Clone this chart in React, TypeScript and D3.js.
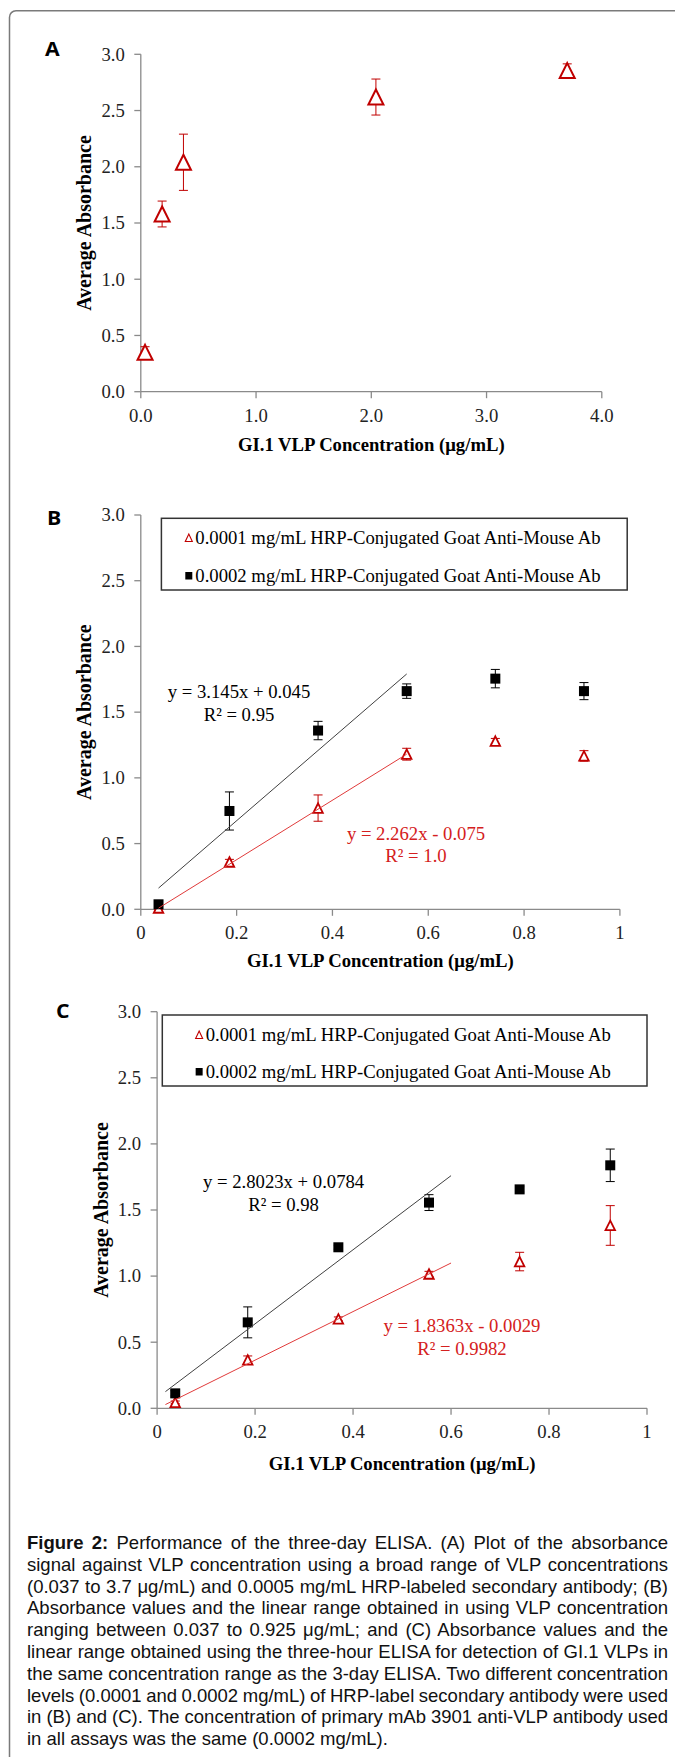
import React, { useEffect, useRef } from 'react';
import * as d3 from 'd3';

const W = 675;
const H = 1757;

// ---- data ----
const concA = [0.037, 0.185, 0.37, 2.04, 3.7];
const absA = [0.35, 1.58, 2.04, 2.62, 2.855];
const errA = [0.05, 0.115, 0.25, 0.16, 0.06];

const concBC = [0.037, 0.185, 0.37, 0.555, 0.74, 0.925];
const absB1 = [0.01, 0.36, 0.77, 1.18, 1.28, 1.167];
const errB1 = [0.01, 0.02, 0.1, 0.045, 0.02, 0.04];
const absB2 = [0.038, 0.748, 1.36, 1.66, 1.755, 1.66];
const errB2 = [0.02, 0.145, 0.07, 0.055, 0.07, 0.065];
const absC1 = [0.045, 0.366, 0.676, 1.016, 1.11, 1.383];
const errC1 = [0.01, 0.03, 0.015, 0.02, 0.07, 0.15];
const absC2 = [0.113, 0.65, 1.218, 1.556, 1.656, 1.838];
const errC2 = [0.02, 0.117, 0.015, 0.06, 0.02, 0.123];

// trendlines: [slope, intercept, from, to]
const fitB1 = [2.262, -0.075, 0.037, 0.555];
const fitB2 = [3.145, 0.045, 0.037, 0.555];
const fitC1 = [1.8363, -0.0029, 0.017, 0.6];
const fitC2 = [2.8023, 0.0784, 0.017, 0.6];

const eqB1 = ['y = 2.262x - 0.075', 'R² = 1.0'];
const eqB2 = ['y = 3.145x + 0.045', 'R² = 0.95'];
const eqC1 = ['y = 1.8363x - 0.0029', 'R² = 0.9982'];
const eqC2 = ['y = 2.8023x + 0.0784', 'R² = 0.98'];

const legendLabels = [
  '0.0001 mg/mL HRP-Conjugated Goat Anti-Mouse Ab',
  '0.0002 mg/mL HRP-Conjugated Goat Anti-Mouse Ab',
];
const yTicks = [0, 0.5, 1, 1.5, 2, 2.5, 3];
const xTicksA = [0, 1, 2, 3, 4];
const xTicksBC = [0, 0.2, 0.4, 0.6, 0.8, 1];
const xTitle = 'GI.1 VLP Concentration (μg/mL)';
const yTitle = 'Average Absorbance';

const captionLines = [
  'Performance of the three-day ELISA. (A) Plot of the absorbance',
  'signal against VLP concentration using a broad range of VLP concentrations',
  '(0.037 to 3.7 μg/mL) and 0.0005 mg/mL HRP-labeled secondary antibody; (B)',
  'Absorbance values and the linear range obtained in using VLP concentration',
  'ranging between 0.037 to 0.925 μg/mL; and (C) Absorbance values and the',
  'linear range obtained using the three-hour ELISA for detection of GI.1 VLPs in',
  'the same concentration range as the 3-day ELISA. Two different concentration',
  'levels (0.0001 and 0.0002 mg/mL) of HRP-label secondary antibody were used',
  'in (B) and (C). The concentration of primary mAb 3901 anti-VLP antibody used',
  'in all assays was the same (0.0002 mg/mL).',
];

const RED = '#c00000';
const REDTXT = '#d42020';
const AXIS = '#8a8a8a';
const SERIF = "'Liberation Serif', 'Times New Roman', serif";
const SANS = "'Liberation Sans', Arial, sans-serif";
const FS = 18.7;

const panels = [
  {
    letter: 'A', lx: 45, ly: 56,
    left: 140.8, right: 601.8, top: 54.3, bottom: 391.7,
    xMax: 4, xTicks: xTicksA, xFmt: d3.format('.1f'),
    yTitleX: 91, xTitleY: 450.7,
    series: [{ x: concA, y: absA, e: errA, shape: 'tri', w: 15, h: 15, sw: 2, color: RED }],
    fits: [], legend: null, eqs: [],
  },
  {
    letter: 'B', lx: 47, ly: 525,
    left: 140.8, right: 619.9, top: 515, bottom: 909.3,
    xMax: 1, xTicks: xTicksBC, xFmt: (d) => String(d),
    yTitleX: 91, xTitleY: 967.3,
    series: [
      { x: concBC, y: absB1, e: errB1, shape: 'tri', w: 9.5, h: 9.5, sw: 1.8, color: RED },
      { x: concBC, y: absB2, e: errB2, shape: 'sq', w: 10, h: 10, sw: 0, color: '#000' },
    ],
    fits: [{ f: fitB1, color: '#e03a3a' }, { f: fitB2, color: '#404040' }],
    legend: [161.4, 518.3, 627.2, 590, 538, 576],
    eqs: [
      { t: eqB2, x: 239, y: 698.3, color: '#000' },
      { t: eqB1, x: 416, y: 840, color: REDTXT },
    ],
  },
  {
    letter: 'C', lx: 56, ly: 1018,
    left: 157.1, right: 647, top: 1011.7, bottom: 1408.3,
    xMax: 1, xTicks: xTicksBC, xFmt: (d) => String(d),
    yTitleX: 108, xTitleY: 1470,
    series: [
      { x: concBC, y: absC1, e: errC1, shape: 'tri', w: 9.5, h: 9.5, sw: 1.8, color: RED },
      { x: concBC, y: absC2, e: errC2, shape: 'sq', w: 10, h: 10, sw: 0, color: '#000' },
    ],
    fits: [{ f: fitC1, color: '#e03a3a' }, { f: fitC2, color: '#404040' }],
    legend: [162.3, 1015, 647, 1086, 1035, 1072],
    eqs: [
      { t: eqC2, x: 283.6, y: 1188.3, color: '#000' },
      { t: eqC1, x: 462, y: 1332.3, color: REDTXT },
    ],
  },
];

function marker(s, cx, cy, key) {
  if (s.shape === 'tri') {
    const p = `M${cx},${cy - s.h / 2}L${cx + s.w / 2},${cy + s.h / 2}L${cx - s.w / 2},${cy + s.h / 2}Z`;
    return <path key={key} d={p} fill="#fff" stroke={s.color} strokeWidth={s.sw} strokeLinejoin="miter" />;
  }
  return <rect key={key} x={cx - s.w / 2} y={cy - s.h / 2} width={s.w} height={s.h} fill={s.color} />;
}

function Panel({ p }) {
  const x = d3.scaleLinear().domain([0, p.xMax]).range([p.left, p.right]);
  const y = d3.scaleLinear().domain([0, 3]).range([p.bottom, p.top]);
  const midY = (p.top + p.bottom) / 2;
  const midX = (p.left + p.right) / 2;
  const line = d3.line().x((d) => x(d[0])).y((d) => y(d[1]));

  return (
    <g>
      <text transform={`translate(${p.lx},${p.ly}) scale(1.12,1)`} fontFamily="'Open Sans', sans-serif" fontWeight="700" fontSize={19}>{p.letter}</text>
      {/* axes */}
      <line x1={p.left} x2={p.left} y1={p.top} y2={p.bottom} stroke={AXIS} strokeWidth={1.3} />
      <line x1={p.left} x2={p.right} y1={p.bottom} y2={p.bottom} stroke={AXIS} strokeWidth={1.3} />
      {yTicks.map((t) => (
        <g key={'y' + t}>
          <line x1={p.left - 6.5} x2={p.left} y1={y(t)} y2={y(t)} stroke={AXIS} strokeWidth={1.3} />
          <text x={p.left - 16} y={y(t) + 6.3} textAnchor="end" fontFamily={SERIF} fontSize={FS} fill="#222">
            {d3.format('.1f')(t)}
          </text>
        </g>
      ))}
      {p.xTicks.map((t) => (
        <g key={'x' + t}>
          <line x1={x(t)} x2={x(t)} y1={p.bottom} y2={p.bottom + 6.5} stroke={AXIS} strokeWidth={1.3} />
          <text x={x(t)} y={p.bottom + 30} textAnchor="middle" fontFamily={SERIF} fontSize={FS} fill="#222">
            {p.xFmt(t)}
          </text>
        </g>
      ))}
      <text x={midX} y={p.xTitleY} textAnchor="middle" fontFamily={SERIF} fontWeight="700" fontSize={FS}>{xTitle}</text>
      <text transform={`translate(${p.yTitleX},${midY}) rotate(-90)`} textAnchor="middle" fontFamily={SERIF} fontWeight="700" fontSize={20}>{yTitle}</text>

      {/* error bars */}
      {p.series.map((s, si) => s.x.map((cx, i) => {
        const y0 = y(s.y[i] - s.e[i]);
        const y1 = y(s.y[i] + s.e[i]);
        const X = x(cx);
        return (
          <g key={`e${si}-${i}`} stroke={s.color} strokeWidth={1}>
            <line x1={X} x2={X} y1={y0} y2={y1} />
            <line x1={X - 4.5} x2={X + 4.5} y1={y0} y2={y0} />
            <line x1={X - 4.5} x2={X + 4.5} y1={y1} y2={y1} />
          </g>
        );
      }))}
      {/* markers */}
      {p.series.map((s, si) => s.x.map((cx, i) => marker(s, x(cx), y(s.y[i]), `m${si}-${i}`)))}
      {/* trendlines */}
      {p.fits.map((t, i) => {
        const [m, b, a, z] = t.f;
        return <path key={'f' + i} d={line([[a, m * a + b], [z, m * z + b]])} stroke={t.color} strokeWidth={1} fill="none" />;
      })}
      {p.eqs.map((q, i) => (
        <g key={'q' + i} fontFamily={SERIF} fontSize={FS} fill={q.color} textAnchor="middle">
          <text x={q.x} y={q.y}>{q.t[0]}</text>
          <text x={q.x} y={q.y + 22.4}>{q.t[1]}</text>
        </g>
      ))}
      {p.legend && (() => {
        const [l, t, r, b, r1, r2] = p.legend;
        const cx = (l + r) / 2;
        const start = cx - 209;
        return (
          <g>
            <rect x={l} y={t} width={r - l} height={b - t} fill="#fff" stroke="#333" strokeWidth={1.5} />
            <path d={`M${start + 3.5},${r1 - 4}L${start + 7},${r1 + 3.5}L${start},${r1 + 3.5}Z`} fill="#fff" stroke={RED} strokeWidth={1.1} />
            <rect x={start} y={r2 - 4} width={7} height={7.5} fill="#000" />
            <text x={start + 10} y={r1 + 6.3} fontFamily={SERIF} fontSize={FS}>{legendLabels[0]}</text>
            <text x={start + 10} y={r2 + 6.3} fontFamily={SERIF} fontSize={FS}>{legendLabels[1]}</text>
          </g>
        );
      })()}
    </g>
  );
}

export default function App() {
  const capRef = useRef(null);

  useEffect(() => {
    // justify caption lines like the printed figure
    const left = 27, right = 668;
    d3.select(capRef.current).selectAll('text.cap').each(function (d, i, nodes) {
      const node = this;
      if (i === nodes.length - 1) return;
      const txt = node.textContent || '';
      const spaces = (txt.match(/ /g) || []).length;
      const natural = node.getComputedTextLength();
      if (spaces > 0) {
        d3.select(node).attr('word-spacing', (right - left - natural) / spaces);
      }
    });
  }, []);

  return (
    <svg width={W} height={H} style={{ position: 'absolute', left: 0, top: 0, background: '#fff' }}>
      <rect width={W} height={H} fill="#fff" />
      <path d={`M${W},10.7H16A6.5,6.5 0 0 0 9.5,17.2V${H}`} fill="none" stroke="#7a7a7a" strokeWidth={1.5} />
      {panels.map((p) => <Panel key={p.letter} p={p} />)}
      <g ref={capRef} fontFamily={SANS} fontSize={18.5} fill="#111">
        {captionLines.map((s, i) => (
          <text key={i} className="cap" x={27} y={1549 + i * 21.8} xmlSpace="preserve">
            {i === 0 && <tspan fontWeight="700">Figure 2: </tspan>}
            {s}
          </text>
        ))}
      </g>
    </svg>
  );
}
